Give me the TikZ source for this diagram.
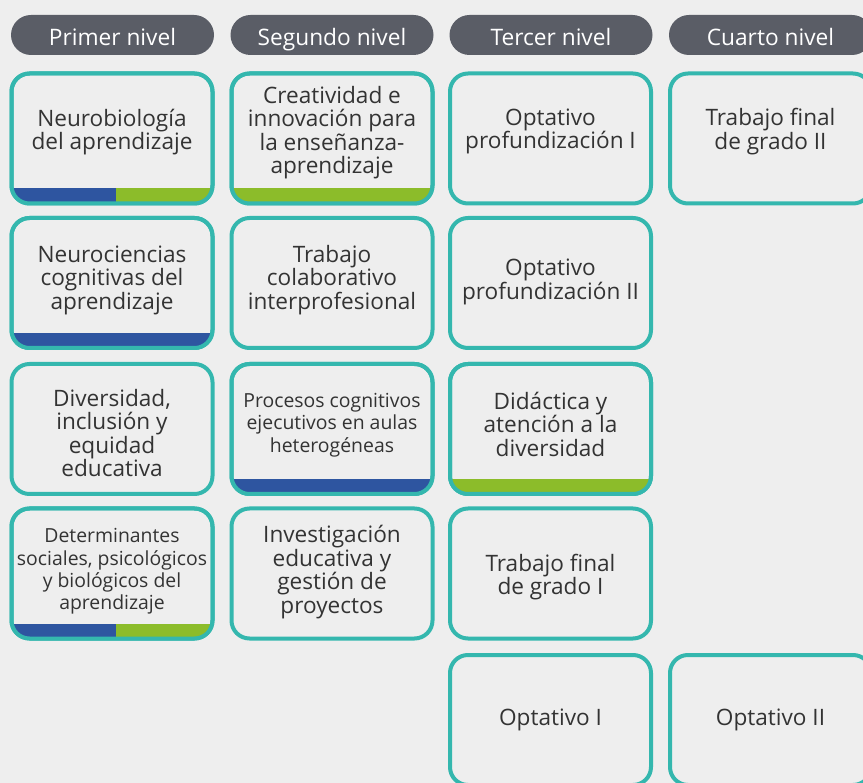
\documentclass[tikz,border=0pt]{standalone}
\usepackage{fontspec}
\setmainfont{Open Sans}
\definecolor{bg}{HTML}{EEEEEE}
\definecolor{hdrgray}{HTML}{5A5D66}
\definecolor{tealb}{HTML}{34B7AE}
\definecolor{barblue}{HTML}{2E55A0}
\definecolor{bargreen}{HTML}{8CBC2A}
\definecolor{txt}{HTML}{333333}
\tikzset{
  hdr/.style={rectangle, rounded corners=20pt, fill=hdrgray, text=white, minimum width=203pt, minimum height=40pt, inner sep=0pt, text height=20.6pt, text depth=0pt, font=\fontsize{22.7}{24}\selectfont},
  boxnode/.style={rectangle, rounded corners=18pt, draw=tealb, line width=4pt, minimum width=201pt, minimum height=130pt, outer sep=0pt, inner sep=0pt, fill=bg},
  border/.style={draw=tealb, line width=4pt, rounded corners=18pt},
  lbl/.style={align=center, text=txt, inner sep=0pt, font=\fontsize{22.6}{23.5}\selectfont},
  lbls/.style={align=center, text=txt, inner sep=0pt, font=\fontsize{19.4}{22.3}\selectfont},
}
\newcommand{\onebar}[2]{%
  \begin{scope}
    \clip[rounded corners=18pt] (#1.south west) rectangle (#1.north east);
    \fill[#2] (#1.south west) rectangle ([yshift=15pt]#1.south east);
  \end{scope}
  \draw[border] (#1.south west) rectangle (#1.north east);}
\newcommand{\twobar}[1]{%
  \begin{scope}
    \clip[rounded corners=18pt] (#1.south west) rectangle (#1.north east);
    \fill[barblue] (#1.south west) rectangle ([xshift=4pt,yshift=15pt]#1.south);
    \fill[bargreen] ([xshift=4pt]#1.south) rectangle ([yshift=15pt]#1.south east);
  \end{scope}
  \draw[border] (#1.south west) rectangle (#1.north east);}
\begin{document}
\begin{tikzpicture}[x=1pt,y=-1pt]
\useasboundingbox (0,0) rectangle (863,783);
\fill[bg] (0,0) rectangle (863,783);
% headers
\node[hdr] (h1) at (112.5,35) {Primer nivel};
\node[hdr] (h2) at (332,35) {Segundo nivel};
\node[hdr] (h3) at (551,35) {Tercer nivel};
\node[hdr] (h4) at (770.5,35) {Cuarto nivel};
% boxes
\node[boxnode] (b11) at (112,138.5) {};
\node[boxnode] (b12) at (112,283) {};
\node[boxnode] (b13) at (112,429) {};
\node[boxnode] (b14) at (112,573.5) {};
\node[boxnode] (b21) at (332,138.5) {};
\node[boxnode] (b22) at (332,283) {};
\node[boxnode] (b23) at (332,429) {};
\node[boxnode] (b24) at (332,573.5) {};
\node[boxnode] (b31) at (550.5,138.5) {};
\node[boxnode] (b32) at (550.5,283) {};
\node[boxnode] (b33) at (550.5,429) {};
\node[boxnode] (b34) at (550.5,573.5) {};
\node[boxnode] (b35) at (550.5,720) {};
\node[boxnode] (b41) at (770.5,138.5) {};
\node[boxnode] (b45) at (770.5,720) {};
% bars
\twobar{b11}
\onebar{b12}{barblue}
\twobar{b14}
\onebar{b21}{bargreen}
\onebar{b23}{barblue}
\onebar{b33}{bargreen}
% labels
\node[lbl] (t11) at (112,132) {Neurobiología\\del aprendizaje};
\node[lbl] (t12) at (112,280) {Neurociencias\\cognitivas del\\aprendizaje};
\node[lbl] (t13) at (112,433) {Diversidad,\\inclusión y\\equidad\\educativa};
\node[lbls] (t14) at (112,571.5) {Determinantes\\sociales, psicológicos\\y biológicos del\\aprendizaje};
\node[lbl] (t21) at (332,132.5) {Creatividad e\\innovación para\\la enseñanza-\\aprendizaje};
\node[lbl] (t22) at (332,280) {Trabajo\\colaborativo\\interprofesional};
\node[lbls] (t23) at (332,425) {Procesos cognitivos\\ejecutivos en aulas\\heterogéneas};
\node[lbl] (t24) at (332,572) {Investigación\\educativa y\\gestión de\\proyectos};
\node[lbl] (t31) at (550.5,131.5) {Optativo\\profundización I};
\node[lbl] (t32) at (550.5,282) {Optativo\\profundización II};
\node[lbl] (t33) at (550.5,424) {Didáctica y\\atención a la\\diversidad};
\node[lbl] (t34) at (550.5,577) {Trabajo final\\de grado I};
\node[lbl] (t35) at (550.5,720) {Optativo I};
\node[lbl] (t41) at (770.5,131.5) {Trabajo final\\de grado II};
\node[lbl] (t45) at (770.5,720) {Optativo II};
\end{tikzpicture}
\end{document}
